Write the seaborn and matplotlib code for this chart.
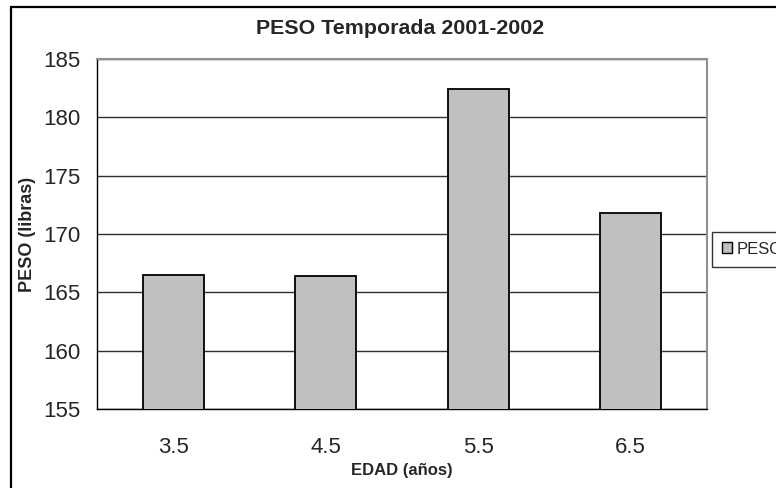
import matplotlib
matplotlib.use("Agg")
import matplotlib.pyplot as plt
from matplotlib.patches import Patch, Rectangle
import seaborn as sns
import pandas as pd

# Weight by age, 2001-2002 season
edades = ["3.5", "4.5", "5.5", "6.5"]
peso = [166.5, 166.4, 182.4, 171.8]
y_ticks = [155, 160, 165, 170, 175, 180, 185]

sns.set_style("white")
plt.rcParams["font.family"] = ["Liberation Sans", "DejaVu Sans"]

W, H = 776, 488
fig = plt.figure(figsize=(W / 100, H / 100), dpi=100)
fig.patch.set_facecolor("white")

# plot area in pixel coordinates
left, right, top, bottom = 97, 707, 59, 409
ax = fig.add_axes([left / W, 1 - bottom / H, (right - left) / W, (bottom - top) / H])

df = pd.DataFrame({"EDAD": edades, "PESO": peso})
sns.barplot(data=df, x="EDAD", y="PESO", ax=ax, color="#C0C0C0", saturation=1,
            width=0.4, edgecolor="black", linewidth=1.3, zorder=3)

ax.set_ylim(155, 185)
ax.set_xlim(-0.5, len(edades) - 0.5)
ax.set_yticks(y_ticks)
ax.yaxis.grid(True, color="#303030", linewidth=1.0, zorder=0)
ax.set_axisbelow(True)

# category boundaries carry the x tick marks
ax.set_xticks([i - 0.5 for i in range(len(edades) + 1)], minor=True)
ax.tick_params(axis="x", which="major", length=0, pad=20, labelsize=16)
ax.tick_params(axis="x", which="minor", length=7, width=1, color="#707070", direction="out")
ax.tick_params(axis="y", length=6, width=1, color="black", direction="out", labelsize=16, pad=6)

for s in ["left", "bottom"]:
    ax.spines[s].set_color("black")
    ax.spines[s].set_linewidth(1.0)
for s in ["right", "top"]:
    ax.spines[s].set_visible(True)
    ax.spines[s].set_color("#909090")
    ax.spines[s].set_linewidth(1.5)

ax.set_xlabel("EDAD (años)", fontsize=12, fontweight="bold")
ax.xaxis.set_label_coords(0.5, -(470 - bottom) / (bottom - top), transform=ax.transAxes)
ax.xaxis.label.set_va("center")
ax.set_ylabel("PESO (libras)", fontsize=13, fontweight="bold")
ax.yaxis.set_label_coords((27 - left) / (right - left), 0.5)
ax.yaxis.label.set_va("center")

fig.text(400 / W, 1 - 28 / H, "PESO Temporada 2001-2002", ha="center", va="center",
         fontsize=15.4, fontweight="bold")

# legend at the right edge
handle = Patch(facecolor="#C0C0C0", edgecolor="black", linewidth=1.0, label="PESO")
leg = fig.legend(handles=[handle], loc="center left",
                 bbox_to_anchor=(712 / W, 1 - 249 / H), frameon=True, fancybox=False,
                 fontsize=12, handlelength=0.6, handleheight=0.6, handletextpad=0.25,
                 borderpad=0.6, borderaxespad=0)
leg.get_frame().set_edgecolor("black")
leg.get_frame().set_linewidth(1.0)

# outer chart frame
fig.patches.append(Rectangle((11 / W, -0.1), 1.2, 1 - 7 / H + 0.1, transform=fig.transFigure,
                             fill=False, edgecolor="black", linewidth=1.6, zorder=10))

fig.savefig("out.png", dpi=100, facecolor="white")
